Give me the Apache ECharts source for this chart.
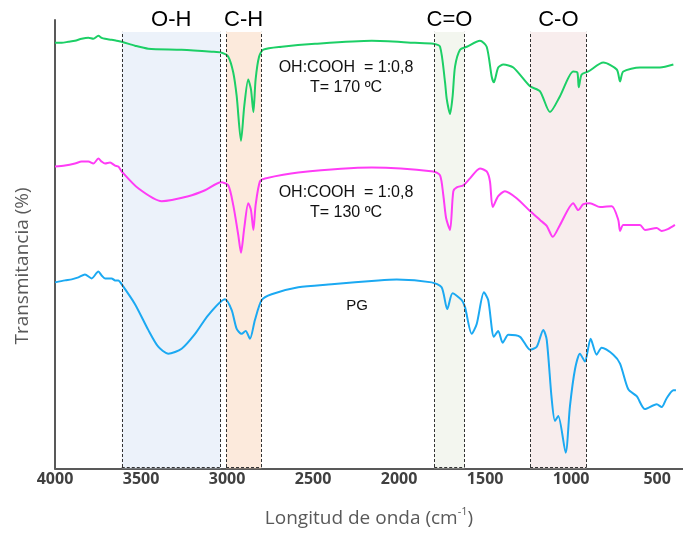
<!DOCTYPE html>
<html>
<head>
<meta charset="utf-8">
<script src="https://cdn.jsdelivr.net/npm/echarts@6/dist/echarts.min.js"></script>
<style>html,body{margin:0;padding:0;background:#fff;}#c{width:683px;height:533px;}</style>
</head>
<body>
<div id="c"></div>
<script>
// Wavenumber (cm-1) vs. transmittance (arbitrary offset units)
const sample170 = [[4000,430],[3961,430],[3923,431],[3884,432],[3845,434],[3806,435],[3777,434],[3748,437],[3729,435],[3709,434],[3671,433],[3641,432],[3612,431],[3535,427],[3458,424],[3264,423],[3089,421],[3031,420],[2993,416],[2964,400],[2944,376],[2919,331],[2900,366],[2877,393],[2861,383],[2847,360],[2834,393],[2814,416],[2789,423],[2682,426],[2489,429],[2159,432],[1908,430],[1801,429],[1762,426],[1733,390],[1723,373],[1704,358],[1689,376],[1675,406],[1646,423],[1607,426],[1530,432],[1491,426],[1462,396],[1449,390],[1424,405],[1394,408],[1336,405],[1239,386],[1181,381],[1123,360],[1065,376],[988,401],[964,400],[956,385],[939,398],[900,401],[813,410],[735,403],[716,391],[697,401],[600,405],[484,405],[406,408]];
const sample130 = [[4000,305],[3942,306],[3884,308],[3845,310],[3806,310],[3777,308],[3748,313],[3729,310],[3709,308],[3680,309],[3651,306],[3632,305],[3612,300],[3516,283],[3380,270],[3225,275],[3128,281],[3035,289],[2993,286],[2964,266],[2935,236],[2919,218],[2900,243],[2877,268],[2861,261],[2847,241],[2834,266],[2809,290],[2779,293],[2586,299],[2159,304],[1801,300],[1762,296],[1743,276],[1727,253],[1704,241],[1685,280],[1665,284],[1627,286],[1588,293],[1530,303],[1491,300],[1472,290],[1456,264],[1424,275],[1385,280],[1317,273],[1239,260],[1181,251],[1142,245],[1107,234],[1065,246],[988,268],[959,261],[929,267],[891,268],[832,264],[764,265],[726,251],[716,240],[697,246],[600,246],[571,241],[503,243],[474,240],[435,242],[397,246]];
const samplePG = [[4000,188],[3942,190],[3903,191],[3864,193],[3826,196],[3787,192],[3748,199],[3729,195],[3709,192],[3671,192],[3651,190],[3632,190],[3612,186],[3535,166],[3458,140],[3400,123],[3342,116],[3264,121],[3186,136],[3109,155],[3012,171],[2973,160],[2944,141],[2915,136],[2892,139],[2867,131],[2838,150],[2799,170],[2741,176],[2586,183],[2392,186],[2121,190],[2014,191],[1811,188],[1753,183],[1720,161],[1689,177],[1636,170],[1617,163],[1578,136],[1549,146],[1507,178],[1482,170],[1449,133],[1424,139],[1398,127],[1365,135],[1297,133],[1239,120],[1200,123],[1162,140],[1142,130],[1113,70],[1094,48],[1075,53],[1032,16],[1007,63],[978,100],[949,116],[920,108],[887,131],[852,115],[823,122],[755,115],[716,106],[668,80],[619,73],[571,60],[503,65],[474,62],[445,71],[406,79],[391,79]];
const regionNames = ['O-H','C-H','C=O','C-O'];
const regionFrom = [3612, 3006, 1796, 1239];
const regionTo = [3037, 2801, 1619, 910];
const regionTop = 441;
const xTicks = [4000,3500,3000,2500,2000,1500,1000,500];

const regionColors = ['rgba(218,229,245,0.5)','rgba(249,213,185,0.5)','rgba(232,237,223,0.5)','rgba(241,220,220,0.5)'];

const chart = echarts.init(document.getElementById('c'), null, {renderer:'canvas'});

const areaData = regionNames.map((n,i)=>[
  {name:n, xAxis:regionFrom[i], yAxis:0, itemStyle:{color:regionColors[i]}},
  {xAxis:regionTo[i], yAxis:regionTop}
]);
const lineData = [];
regionNames.forEach((n,i)=>{
  [regionFrom[i], regionTo[i]].forEach(x=>{
    lineData.push([{coord:[x,1.5]},{coord:[x,regionTop]}]);
  });
  lineData.push([{coord:[regionFrom[i],1.5]},{coord:[regionTo[i],1.5]}]);
});

const txt = {fontFamily:'Liberation Sans, Arial, sans-serif', fontSize:16, fill:'#111', textAlign:'center', textVerticalAlign:'middle'};
const lineBase = {type:'line', showSymbol:false, z:2, smooth:0.25};

chart.setOption({
  animation:false,
  grid:{left:55, right:0, top:20, bottom:60, containLabel:false},
  xAxis:{
    type:'value', min:350, max:4000, inverse:true,
    axisLine:{show:true, lineStyle:{color:'#595959', width:2}},
    axisTick:{show:false},
    splitLine:{show:false},
    axisLabel:{customValues:xTicks, formatter:v=>String(v), fontFamily:'Open Sans', fontWeight:'bold', fontSize:16, color:'#404040', margin:3},
    name:'{a|Longitud de onda (cm}{s|-1}{a|)}',
    nameLocation:'middle', nameGap:38,
    nameTextStyle:{rich:{
      a:{fontFamily:'Open Sans', fontSize:19, color:'#595959', lineHeight:24},
      s:{fontFamily:'Open Sans', fontSize:11, color:'#595959', verticalAlign:'top', lineHeight:24}
    }}
  },
  yAxis:{
    type:'value', min:0, max:453,
    axisLine:{show:true, lineStyle:{color:'#595959', width:2}},
    axisTick:{show:false}, axisLabel:{show:false}, splitLine:{show:false}
  },
  series:[
    Object.assign({}, lineBase, {data:sample170, lineStyle:{color:'#1ccf66', width:2}, itemStyle:{color:'#1ccf66'}}),
    Object.assign({}, lineBase, {data:sample130, lineStyle:{color:'#ff3cf6', width:2}, itemStyle:{color:'#ff3cf6'}}),
    Object.assign({}, lineBase, {data:samplePG, lineStyle:{color:'#1ba9f2', width:2}, itemStyle:{color:'#1ba9f2'}}),
    {type:'line', data:[], z:5, silent:true,
      markArea:{silent:true, label:{show:true, position:'top', distance:1, fontFamily:'Liberation Sans, Arial', fontSize:22, color:'#000'}, data:areaData},
      markLine:{silent:true, symbol:['none','none'], label:{show:false}, lineStyle:{type:[3,2], color:'#333', width:1}, data:lineData}
    }
  ],
  graphic:[
    {type:'text', z:10, style:Object.assign({}, txt, {x:346, y:68, text:'OH:COOH  = 1:0,8'})},
    {type:'text', z:10, style:Object.assign({}, txt, {x:346, y:88, text:'T= 170 ºC'})},
    {type:'text', z:10, style:Object.assign({}, txt, {x:346, y:193, text:'OH:COOH  = 1:0,8'})},
    {type:'text', z:10, style:Object.assign({}, txt, {x:346, y:213, text:'T= 130 ºC'})},
    {type:'text', z:10, style:Object.assign({}, txt, {x:357, y:306, text:'PG', fontSize:15})},
    {type:'text', z:10, x:23, y:266, rotation:Math.PI/2, style:{text:'Transmitancia (%)', fontFamily:'Open Sans', fontSize:19, fill:'#595959', textAlign:'center', textVerticalAlign:'middle'}}
  ]
});
</script>
</body>
</html>
